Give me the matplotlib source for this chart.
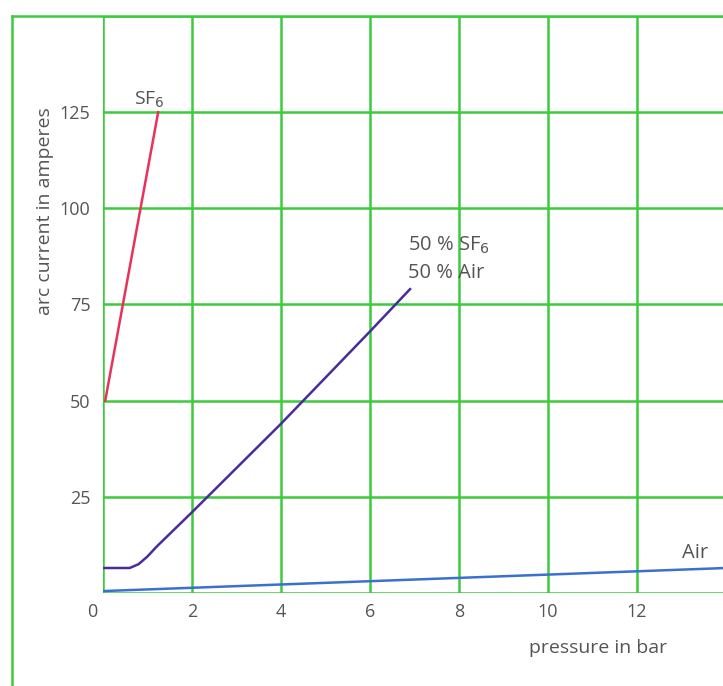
import numpy as np
from matplotlib import pyplot as plt

# arc current vs pressure for SF6, air and a 50/50 mixture

sf6_p = [0.05, 1.24]
sf6_i = [50, 125]

mix_p = [0.0, 0.6, 0.8, 1.0, 1.2, 2.0, 4.0, 6.0, 6.9]
mix_i = [6.5, 6.5, 7.5, 9.5, 12.0, 21.0, 44.0, 68.0, 79.0]

air_p = [0.0, 14.0]
air_i = [0.5, 6.5]

xticks = [2, 4, 6, 8, 10, 12]
yticks = [25, 50, 75, 100, 125]

green = '#3ccc3c'
text_c = '#555555'
plt.rcParams['font.family'] = ['Open Sans', 'DejaVu Sans']

fig = plt.figure(figsize=(7.23, 6.86), dpi=100)
W, H = 723, 686
ax = fig.add_axes([103 / W, (H - 593) / H, 620 / W, 577 / H])
ax.set_xlim(0, 620 / 44.5)
ax.set_ylim(0, 150)

# grid
for x in range(0, 13, 2):
    ax.axvline(x, color=green, lw=1.8, zorder=1)
for y in range(0, 151, 25):
    ax.axhline(y, color=green, lw=1.8, zorder=1)
for s in ax.spines.values():
    s.set_visible(False)

# outer frame (left and top)
fig.add_artist(plt.Line2D([12 / W, 12 / W], [0, (H - 16) / H], color=green, lw=1.8))
fig.add_artist(plt.Line2D([12 / W, 1], [(H - 16) / H, (H - 16) / H], color=green, lw=1.8))

ax.plot(sf6_p, sf6_i, color='#e8325a', lw=1.8, zorder=3)
ax.plot(mix_p, mix_i, color='#4b2a9a', lw=1.8, zorder=3)
ax.plot(air_p, air_i, color='#3a70d0', lw=1.8, zorder=3)

ax.set_xticks(xticks)
ax.set_yticks(yticks)
ax.tick_params(axis='y', length=0, labelsize=13, labelcolor=text_c, pad=9)
ax.tick_params(axis='x', length=0, labelsize=13, labelcolor=text_c, pad=7)
ax.text(-0.25, -2.6, '0', ha='center', va='top', fontsize=13, color=text_c)

ax.text(1.05, 125.5, r'SF$_6$', ha='center', va='bottom', fontsize=14, color=text_c)
ax.text(6.85, 90.3, r'50 % SF$_6$', ha='left', va='center', fontsize=14.5, color=text_c)
ax.text(6.85, 83.3, '50 % Air', ha='left', va='center', fontsize=14.5, color=text_c)
ax.text(13.3, 7.8, 'Air', ha='center', va='bottom', fontsize=14.5, color=text_c)

fig.text(598 / W, (H - 648) / H, 'pressure in bar', ha='center', va='center',
         fontsize=14, color=text_c)
fig.text(45 / W, (H - 211) / H, 'arc current in amperes', ha='center', va='center',
         rotation=90, fontsize=14, color=text_c)

fig.savefig('out.png', dpi=100)
